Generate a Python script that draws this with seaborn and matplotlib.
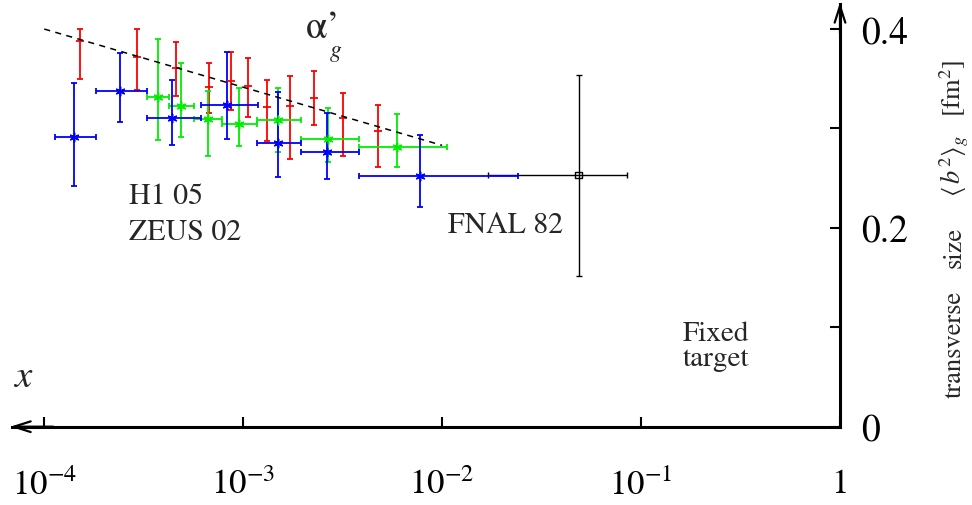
import numpy as np
import pandas as pd
import matplotlib
matplotlib.use("Agg")
import matplotlib.pyplot as plt
import seaborn as sns

# ---- data: x (Bjorken x) and transverse size <b^2>_g [fm^2] ----
# H1 05 (blue)
h1_x   = [1.415e-4, 2.40e-4, 4.39e-4, 8.29e-4, 1.494e-3, 2.635e-3, 7.78e-3]
h1_xlo = [1.136e-4, 1.81e-4, 3.30e-4, 6.12e-4, 1.179e-3, 1.944e-3, 3.80e-3]
h1_xhi = [1.818e-4, 3.30e-4, 6.12e-4, 1.187e-3, 1.944e-3, 3.804e-3, 2.396e-2]
h1_y   = [0.291, 0.338, 0.3105, 0.324, 0.285, 0.276, 0.252]
h1_ylo = [0.242, 0.306, 0.283, 0.289, 0.251, 0.249, 0.221]
h1_yhi = [0.346, 0.376, 0.349, 0.377, 0.337, 0.316, 0.293]

# ZEUS 02 (green)
zeus_x   = [3.735e-4, 4.87e-4, 6.66e-4, 9.49e-4, 1.495e-3, 2.656e-3, 5.965e-3]
zeus_xlo = [3.30e-4, 4.24e-4, 5.66e-4, 7.86e-4, 1.179e-3, 1.944e-3, 3.81e-3]
zeus_xhi = [4.24e-4, 5.66e-4, 7.86e-4, 1.18e-3, 1.944e-3, 3.81e-3, 1.06e-2]
zeus_y   = [0.332, 0.323, 0.3095, 0.304, 0.3085, 0.289, 0.2815]
zeus_ylo = [0.288, 0.291, 0.272, 0.282, 0.276, 0.266, 0.261]
zeus_yhi = [0.390, 0.3655, 0.338, 0.341, 0.341, 0.321, 0.315]

# second H1 sample (red, vertical errors only)
red_x   = [1.516e-4, 2.91e-4, 4.60e-4, 6.71e-4, 8.73e-4, 1.062e-3,
           1.324e-3, 1.718e-3, 2.278e-3, 3.188e-3, 4.77e-3]
red_y   = [0.388, 0.3715, 0.3605, 0.342, 0.348, 0.343,
           0.322, 0.323, 0.331, 0.311, 0.297]
red_ylo = [0.350, 0.339, 0.333, 0.316, 0.319, 0.312,
           0.287, 0.269, 0.303, 0.272, 0.261]
red_yhi = [0.400, 0.400, 0.387, 0.3655, 0.377, 0.371,
           0.349, 0.353, 0.358, 0.336, 0.3235]

# FNAL 82 (black)
fnal_x, fnal_xlo, fnal_xhi = [4.85e-2], [1.694e-2], [8.49e-2]
fnal_y, fnal_ylo, fnal_yhi = [0.2532], [0.1519], [0.3540]

# alpha'_g slope line
slope_x = [1e-4, 1e-2]
slope_y = [0.400, 0.283]

x_ticks = [1e-4, 1e-3, 1e-2, 1e-1, 1.0]
x_ticklabels = [r"$10^{-4}$", r"$10^{-3}$", r"$10^{-2}$", r"$10^{-1}$", "1"]
y_ticks = [0.0, 0.1, 0.2, 0.3, 0.4]
y_ticklabels = ["0", "", "0.2", "", "0.4"]

# ---- style ----
sns.set_theme(style="white")
plt.rcParams["font.family"] = ["STIXGeneral", "DejaVu Serif"]
plt.rcParams["mathtext.fontset"] = "stix"

W, H = 972, 506
fig = plt.figure(figsize=(W / 100, H / 100), dpi=100)

def fx(px):
    return px / W

def fy(py):
    return 1 - py / H

x_left = 10 ** (-4 + (12 - 44.3) / 199.2)
ax = fig.add_axes([fx(12), fy(427.7), fx(840) - fx(12), fy(5) - fy(427.7)])
ax.set_xscale("log")
ax.set_xlim(x_left, 1.0)
ax.set_ylim(0, 0.4252)
ax.patch.set_alpha(0)

def errs(v, lo, hi):
    v, lo, hi = map(np.asarray, (v, lo, hi))
    return np.vstack([v - lo, hi - v])

eb = dict(fmt="none", elinewidth=1.3, capsize=2.2, capthick=1.3)
ax.errorbar(red_x, red_y, yerr=errs(red_y, red_ylo, red_yhi), ecolor="#ff0000", zorder=3, **eb)
ax.errorbar(zeus_x, zeus_y, xerr=errs(zeus_x, zeus_xlo, zeus_xhi),
            yerr=errs(zeus_y, zeus_ylo, zeus_yhi), ecolor="#00ee00", zorder=4, **eb)
ax.errorbar(h1_x, h1_y, xerr=errs(h1_x, h1_xlo, h1_xhi),
            yerr=errs(h1_y, h1_ylo, h1_yhi), ecolor="#0000ff", zorder=5, **eb)
ax.errorbar(fnal_x, fnal_y, xerr=errs(fnal_x, fnal_xlo, fnal_xhi),
            yerr=errs(fnal_y, fnal_ylo, fnal_yhi), ecolor="black",
            fmt="none", elinewidth=1.0, capsize=2.2, capthick=1.0, zorder=4)

asterisk = (6, 2, 0)
sns.scatterplot(x=red_x, y=red_y, ax=ax, marker="_", s=40, color="#ff0000",
                linewidth=1.3, zorder=6, legend=False)
sns.scatterplot(x=zeus_x, y=zeus_y, ax=ax, marker=asterisk, s=40, color="#00ee00",
                edgecolor="#00ee00", linewidth=1.1, zorder=6, legend=False)
sns.scatterplot(x=h1_x, y=h1_y, ax=ax, marker=asterisk, s=40, color="#0000ff",
                edgecolor="#0000ff", linewidth=1.1, zorder=7, legend=False)
sns.scatterplot(x=fnal_x, y=fnal_y, ax=ax, marker="s", s=22, facecolor="none",
                edgecolor="black", linewidth=1.0, zorder=7, legend=False)

sns.lineplot(x=slope_x, y=slope_y, ax=ax, color="black", linewidth=1.1,
             linestyle=(0, (4, 3.5)), zorder=8)

# ---- axes: bottom x axis with arrow to the left, right y axis with arrow up ----
for side in ("left", "top"):
    ax.spines[side].set_visible(False)
for side in ("bottom", "right"):
    ax.spines[side].set_linewidth(2.2)
    ax.spines[side].set_color("black")

arrow = dict(arrowstyle="->,head_length=1.0,head_width=0.32", lw=1.6, color="black",
             shrinkA=0, shrinkB=0)
ax.annotate("", xy=(-0.002, 0), xytext=(0.05, 0), xycoords="axes fraction",
            textcoords="axes fraction", arrowprops=arrow, annotation_clip=False)
ax.annotate("", xy=(1, 1.004), xytext=(1, 0.93), xycoords="axes fraction",
            textcoords="axes fraction", arrowprops=arrow, annotation_clip=False)

ax.xaxis.set_minor_locator(matplotlib.ticker.NullLocator())
ax.set_xticks(x_ticks)
ax.set_xticklabels(x_ticklabels)
ax.tick_params(axis="x", direction="in", length=7, width=1.5, pad=30,
               labelsize=25, bottom=True, top=False, colors="black")

ax.yaxis.tick_right()
ax.set_yticks(y_ticks)
ax.set_yticklabels(y_ticklabels)
ax.tick_params(axis="y", direction="in", length=7, width=1.5, pad=15,
               labelsize=27, right=True, left=False, colors="black")
ax.grid(False)

# ---- annotations ----
fig.text(fx(129), fy(204), "H1 05", fontsize=21.5, va="baseline", ha="left")
fig.text(fx(129), fy(240), "ZEUS 02", fontsize=21.5, va="baseline", ha="left")
fig.text(fx(448), fy(233), "FNAL 82", fontsize=21.5, va="baseline", ha="left")
fig.text(fx(683), fy(341.5), "Fixed", fontsize=21, va="baseline", ha="left")
fig.text(fx(683), fy(366.5), "target", fontsize=21, va="baseline", ha="left")
fig.text(fx(13), fy(387), r"$x$", fontsize=28, va="baseline", ha="left")

fig.text(fx(305), fy(38), r"$\mathregular{α’}$", fontsize=28, va="baseline", ha="left")
fig.text(fx(329), fy(57), r"$g$", fontsize=17, va="baseline", ha="left")

ylab = dict(rotation=90, rotation_mode="anchor", ha="center", va="baseline", fontsize=19)
fig.text(fx(961), fy(344), "transverse", **ylab)
fig.text(fx(961), fy(247), "size", **ylab)
fig.text(fx(961), fy(166), r"$\langle\, b^2\rangle_g$", **ylab)
fig.text(fx(961), fy(88), r"[fm$^2$]", **ylab)

fig.savefig("out.png", dpi=100)
